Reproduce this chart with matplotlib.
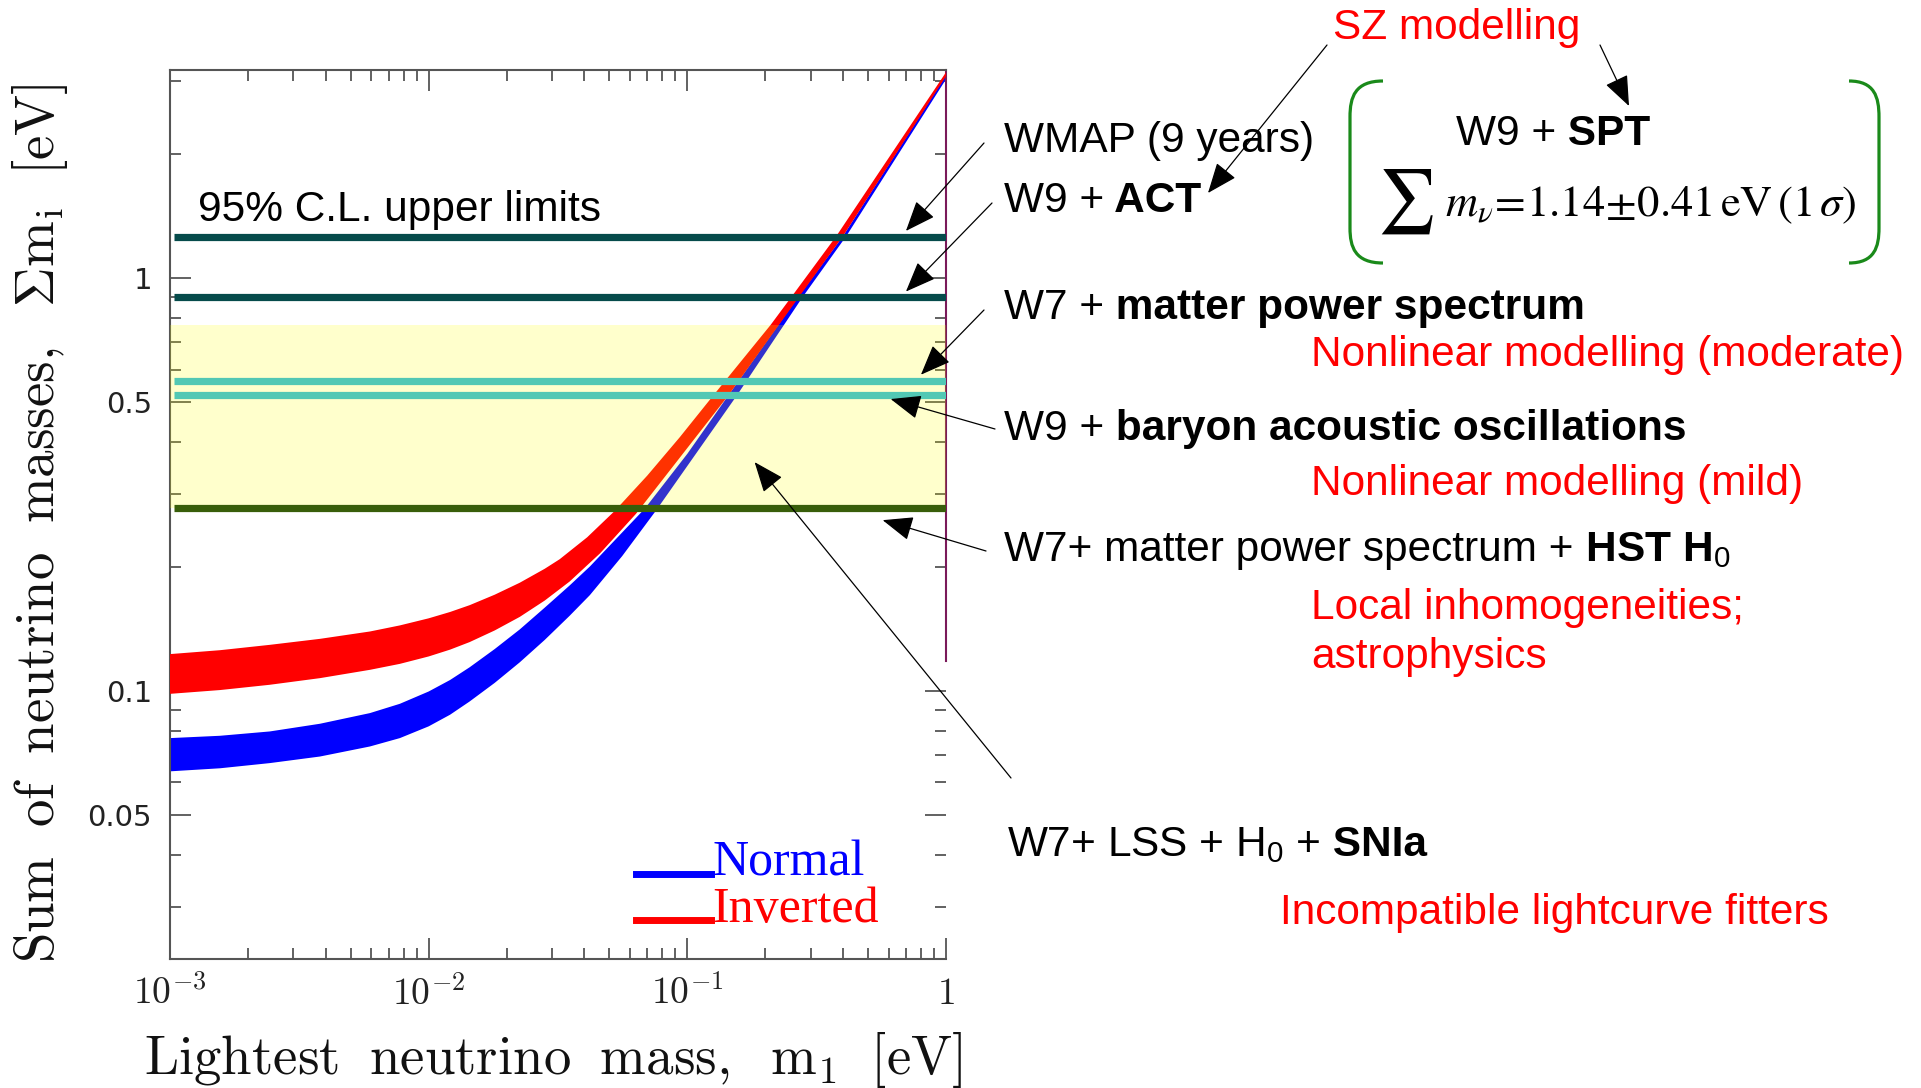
import numpy as np
import matplotlib
matplotlib.use('Agg')
import matplotlib.pyplot as plt
from matplotlib.lines import Line2D
from matplotlib.path import Path
from matplotlib.patches import PathPatch
from matplotlib.offsetbox import TextArea, HPacker, AnnotationBbox
from matplotlib.legend_handler import HandlerLine2D
from matplotlib.ticker import FixedLocator, FixedFormatter, NullFormatter, LogLocator

W, H = 1921, 1088

# band edges: lightest mass m1 [eV] -> sum of masses [eV]
normal_up_m1 = [0.001, 0.00156, 0.00243, 0.0038, 0.00593, 0.00774, 0.01, 0.0121, 0.0144, 0.018,
                0.0225, 0.0281, 0.0351, 0.042, 0.0684, 0.1, 0.1436, 0.268, 0.4, 1.0]
normal_up_sum = [0.0768, 0.0778, 0.0797, 0.0832, 0.0883, 0.0930, 0.0996, 0.1062, 0.1140, 0.1262,
                 0.1408, 0.1590, 0.1800, 0.2000, 0.276, 0.375, 0.518, 0.899, 1.264, 3.10]
normal_lo_m1 = [0.001, 0.00156, 0.00243, 0.0038, 0.00593, 0.00774, 0.01, 0.0121, 0.0144, 0.018,
                0.0225, 0.0281, 0.0351, 0.042, 0.056, 0.0759, 0.155, 0.279, 0.412, 1.0]
normal_lo_sum = [0.0638, 0.0649, 0.0668, 0.0693, 0.0733, 0.0768, 0.0820, 0.0875, 0.0942, 0.1045,
                 0.1172, 0.1328, 0.1520, 0.1705, 0.212, 0.274, 0.518, 0.899, 1.264, 3.03]

inv_up_m1 = [0.001, 0.00156, 0.00243, 0.0038, 0.00593, 0.00774, 0.01, 0.0121, 0.0144, 0.018,
             0.0225, 0.0281, 0.0321, 0.041, 0.0524, 0.07, 0.0935, 0.1256, 0.21, 0.256, 0.377, 1.0]
inv_up_sum = [0.1227, 0.1254, 0.1292, 0.1336, 0.1392, 0.1440, 0.1498, 0.1552, 0.1612, 0.1709,
              0.1827, 0.1975, 0.2083, 0.2354, 0.2727, 0.3321, 0.4114, 0.518, 0.77, 0.91, 1.264, 3.15]
inv_lo_m1 = [0.001, 0.00156, 0.00243, 0.0038, 0.00593, 0.00774, 0.01, 0.0121, 0.0144, 0.018,
             0.0225, 0.0281, 0.0351, 0.046, 0.0633, 0.1436, 0.270, 0.400, 1.0]
inv_lo_sum = [0.0983, 0.1004, 0.1034, 0.1073, 0.1124, 0.1162, 0.1211, 0.1258, 0.1312, 0.1400,
              0.1510, 0.1654, 0.1840, 0.2153, 0.2683, 0.518, 0.899, 1.264, 3.08]

# 95% C.L. upper limits on the sum [eV]
limit_names = ['WMAP9', 'W9+ACT', 'W7+MPS', 'W9+BAO', 'W7+MPS+HST']
limit_values = [1.26, 0.90, 0.563, 0.520, 0.277]
limit_colors = ['#064b4b', '#064b4b', '#52c8b4', '#52c8b4', '#385e0a']
band_range = (0.277, 0.771)

# arrow tips in data coords (m1, sum), one per limit
arrow_tips = [(0.70, 1.30), (0.70, 0.927), (0.80, 0.583), (0.611, 0.509), (0.569, 0.259)]
snia_tip = (0.182, 0.358)

xtick_pos = [1e-3, 1e-2, 1e-1, 1]
xtick_labels = [r'$10^{-3}$', r'$10^{-2}$', r'$10^{-1}$', r'$1$']
ytick_pos = [0.05, 0.1, 0.5, 1]
ytick_labels = ['0.05', '0.1', '0.5', '1']
ytick_minor = [0.03, 0.04, 0.06, 0.07, 0.08, 0.09, 0.2, 0.3, 0.4, 0.6, 0.7, 0.8, 0.9, 2, 3]
legend_labels = ['Normal', 'Inverted']

plt.rcParams['font.family'] = ['Liberation Sans', 'DejaVu Sans']
plt.rcParams['mathtext.fontset'] = 'cm'
plt.rcParams['mathtext.rm'] = 'Liberation Sans'


def fxy(x, y):
    # top-left pixel position -> figure fraction
    return (x / W, 1 - y / H)


class LowLine(HandlerLine2D):
    # legend bar sits on the text baseline
    def create_artists(self, legend, orig_handle, xdescent, ydescent, width, height, fontsize, trans):
        arts = super().create_artists(legend, orig_handle, xdescent, ydescent, width, height,
                                      fontsize, trans)
        for a in arts:
            a.set_ydata(np.asarray(a.get_ydata()) - 0.45 * height)
        return arts


fig = plt.figure(figsize=(W / 100, H / 100), dpi=100)
ax = fig.add_axes([170 / W, 1 - 959 / H, 776 / W, 889 / H])
ax.set_xscale('log')
ax.set_yscale('log')
ax.set_xlim(1e-3, 1)
ax.set_ylim(0.0224, 3.19)

ax.fill(np.r_[normal_up_m1, normal_lo_m1[::-1]], np.r_[normal_up_sum, normal_lo_sum[::-1]],
        color='#0000ff', lw=0, zorder=2)
ax.fill(np.r_[inv_up_m1, inv_lo_m1[::-1]], np.r_[inv_up_sum, inv_lo_sum[::-1]],
        color='#ff0000', lw=0, zorder=3)
ax.axhspan(*band_range, color='yellow', alpha=0.2, lw=0, zorder=4)
for v, c in zip(limit_values, limit_colors):
    ax.axhline(v, xmin=0.005, xmax=1, color=c, lw=5.2, zorder=5, solid_capstyle='butt')

# axes frame / ticks
for s in ['left', 'bottom', 'top']:
    ax.spines[s].set_color('#555555')
    ax.spines[s].set_linewidth(1.5)
ax.spines['right'].set_color('#7a1a5a')
ax.spines['right'].set_linewidth(1.5)
ax.spines['right'].set_bounds(0.118, 3.19)

ax.xaxis.set_major_locator(FixedLocator(xtick_pos))
ax.xaxis.set_major_formatter(FixedFormatter(xtick_labels))
ax.xaxis.set_minor_locator(LogLocator(base=10, subs=np.arange(2, 10), numticks=20))
ax.xaxis.set_minor_formatter(NullFormatter())
ax.yaxis.set_major_locator(FixedLocator(ytick_pos))
ax.yaxis.set_major_formatter(FixedFormatter(ytick_labels))
ax.yaxis.set_minor_locator(FixedLocator(ytick_minor))
ax.yaxis.set_minor_formatter(NullFormatter())
ax.tick_params(which='both', direction='in', top=True, right=True, color='#555555', width=1.3)
ax.tick_params(which='major', length=15)
ax.tick_params(which='minor', length=8)
ax.tick_params(axis='x', which='major', labelsize=27, pad=12, labelcolor='#222222')
ax.tick_params(axis='y', which='major', labelsize=21, pad=13, labelcolor='#222222')
for t in ax.get_yticklabels():
    t.set_family('DejaVu Sans')

fig.text(*fxy(553, 1060), r'$\mathrm{Lightest\ \;neutrino\ \;mass,\ \;m_1\ \;[eV]}$',
         fontsize=39.5, ha='center', va='center', color='#111111')
fig.text(*fxy(40, 523), r'$\mathrm{Sum\ \;of\ \;neutrino\ \;masses,\ \;\Sigma m_i\ \;[eV]}$',
         fontsize=39.5, ha='center', va='center', rotation=90, color='#111111')

leg = ax.legend([Line2D([], [], color='#0000ff', lw=5), Line2D([], [], color='#ff0000', lw=5)],
                legend_labels, loc='upper left', bbox_to_anchor=fxy(636, 840),
                bbox_transform=fig.transFigure, frameon=False, handlelength=1.5,
                handletextpad=0.03, labelspacing=0.0, borderpad=0, borderaxespad=0,
                handler_map={Line2D: LowLine()},
                prop={'family': 'Liberation Serif', 'size': 36})
for txt, c in zip(leg.get_texts(), ['#0000ff', '#ff0000']):
    txt.set_color(c)

FS = 30.5
fig.text(*fxy(198, 210), '95% C.L. upper limits', fontsize=FS, va='center')


def mixed(x, y, parts, color='black'):
    boxes = [TextArea(s, textprops=dict(fontsize=FS, fontweight=w, color=color,
                                        math_fontfamily='custom')) for s, w in parts]
    pack = HPacker(children=boxes, align='baseline', pad=0, sep=0)
    ab = AnnotationBbox(pack, fxy(x, y), xycoords='figure fraction', box_alignment=(0, 0.5),
                        frameon=False, pad=0)
    fig.add_artist(ab)


red = '#ff0000'
fig.text(*fxy(1004, 141), 'WMAP (9 years)', fontsize=FS, va='center')
mixed(1004, 201, [('W9 +', 'normal'), (' ACT', 'bold')])
mixed(1004, 308, [('W7 +', 'normal'), (' matter power spectrum', 'bold')])
fig.text(*fxy(1311, 355), 'Nonlinear modelling (moderate)', fontsize=FS, va='center', color=red)
mixed(1004, 429, [('W9 +', 'normal'), (' baryon acoustic oscillations', 'bold')])
fig.text(*fxy(1311, 484), 'Nonlinear modelling (mild)', fontsize=FS, va='center', color=red)
mixed(1004, 550, [('W7+ matter power spectrum +', 'normal'), (r' HST H$_0$', 'bold')])
fig.text(*fxy(1311, 608), 'Local inhomogeneities;', fontsize=FS, va='center', color=red)
fig.text(*fxy(1311, 657), 'astrophysics', fontsize=FS, va='center', color=red)
mixed(1007, 845, [(r'W7+ LSS + H$_0$ +', 'normal'), (' SNIa', 'bold')])
fig.text(*fxy(1280, 913), 'Incompatible lightcurve fitters', fontsize=FS, va='center', color=red)
fig.text(*fxy(1333, 28), 'SZ modelling', fontsize=FS, va='center', color=red)
mixed(1456, 134, [('W9 +', 'normal'), (' SPT', 'bold')])
fig.text(*fxy(1377, 202), r'$\sum$', fontsize=46, va='center', math_fontfamily='stix')
fig.text(*fxy(1445, 205), r'$m_\nu\!=\!1.14\!\pm\!0.41\,\mathrm{eV}\,(1\,\sigma)$',
         fontsize=32, va='center', math_fontfamily='stix')

# green brackets around the SPT result
for tip, line in [(1383, 1350), (1849, 1879)]:
    verts = [fxy(tip, 81), fxy(line - (line - tip) * 0.15, 81), fxy(line, 97), fxy(line, 117),
             fxy(line, 228), fxy(line, 247), fxy(line - (line - tip) * 0.15, 263), fxy(tip, 263)]
    codes = [Path.MOVETO, Path.CURVE4, Path.CURVE4, Path.CURVE4,
             Path.LINETO, Path.CURVE4, Path.CURVE4, Path.CURVE4]
    fig.add_artist(PathPatch(Path(verts, codes), transform=fig.transFigure, fill=False,
                             edgecolor='#1a8a1a', lw=2.3))

arrow = dict(arrowstyle='-|>,head_length=1.0,head_width=0.4', mutation_scale=19,
             lw=0.9, color='black', shrinkA=0, shrinkB=0)
tails = [(984, 143), (992, 203), (984, 310), (995, 429), (986, 551)]
for tip, tail in zip(arrow_tips, tails):
    ax.annotate('', xy=tip, xycoords='data', xytext=fxy(*tail), textcoords='figure fraction',
                arrowprops=arrow, annotation_clip=False, zorder=8)
ax.annotate('', xy=snia_tip, xycoords='data', xytext=fxy(1011, 778), textcoords='figure fraction',
            arrowprops=arrow, annotation_clip=False, zorder=8)
fig.add_artist(matplotlib.text.Annotation('', xy=fxy(1208, 193), xycoords='figure fraction',
                                          xytext=fxy(1327, 45), textcoords='figure fraction',
                                          arrowprops=arrow))
fig.add_artist(matplotlib.text.Annotation('', xy=fxy(1629, 106), xycoords='figure fraction',
                                          xytext=fxy(1600, 45), textcoords='figure fraction',
                                          arrowprops=arrow))

fig.savefig('out.png', dpi=100)
